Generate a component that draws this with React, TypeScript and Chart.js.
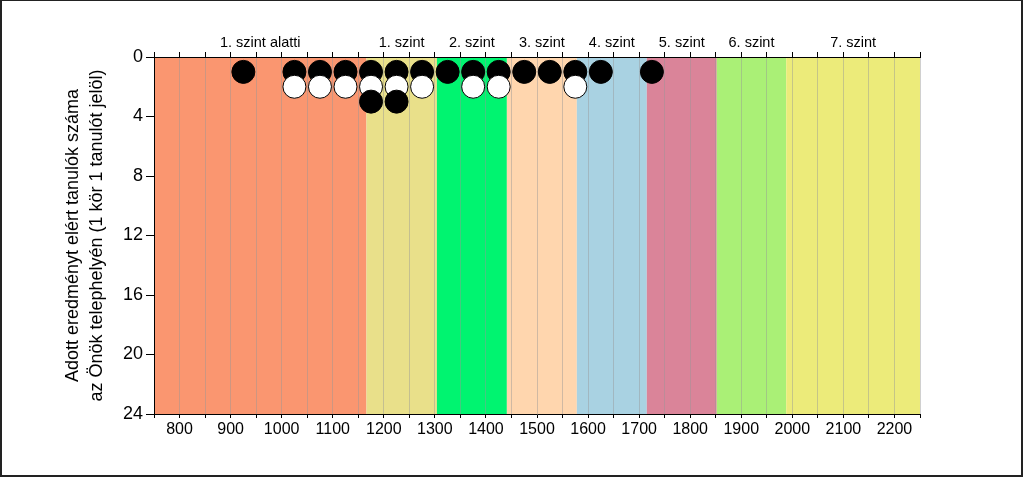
import React, { useEffect, useRef } from "react";
import { Chart, registerables } from "chart.js";

Chart.register(...registerables);

// ---- data ----
const levelNames = ["1. szint alatti", "1. szint", "2. szint", "3. szint", "4. szint", "5. szint", "6. szint", "7. szint"];
const levelStarts = [750, 1166, 1304, 1441, 1578, 1715, 1852, 1988];
const levelEnds = [1166, 1304, 1441, 1578, 1715, 1852, 1988, 2250];
const levelColors = ["#FA9670", "#E9E08A", "#00F470", "#FFD6AE", "#A9D2E2", "#DA8499", "#AAF076", "#ECEB7A"];

const scoreBins = [925, 1025, 1075, 1125, 1175, 1225, 1275, 1325, 1375, 1425, 1475, 1525, 1575, 1625, 1725];
const studentCounts = [1, 2, 2, 2, 3, 3, 2, 1, 2, 2, 1, 1, 2, 1, 1];

const xMin = 750;
const xMax = 2250;
const yMin = 0;
const yMax = 24;

const FONT = "'Liberation Sans', Arial, sans-serif";

function buildRows() {
  const maxCount = Math.max(...studentCounts);
  const rows: { x: number; y: number }[][] = [];
  for (let k = 1; k <= maxCount; k++) {
    const pts: { x: number; y: number }[] = [];
    scoreBins.forEach((b, i) => {
      if (studentCounts[i] >= k) pts.push({ x: b, y: k });
    });
    rows.push(pts);
  }
  return rows;
}

const bandsPlugin = {
  id: "bands",
  beforeDraw(chart: any) {
    const { ctx, chartArea, scales } = chart;
    const xs = scales.x;
    ctx.save();
    levelStarts.forEach((s, i) => {
      const x0 = xs.getPixelForValue(s);
      const x1 = xs.getPixelForValue(levelEnds[i]);
      ctx.fillStyle = levelColors[i];
      ctx.fillRect(x0, chartArea.top, x1 - x0, chartArea.bottom - chartArea.top);
    });
    ctx.restore();
  },
  afterDraw(chart: any) {
    const { ctx, chartArea, scales } = chart;
    const xs = scales.x;
    ctx.save();
    ctx.fillStyle = "#000";
    ctx.font = `14.5px ${FONT}`;
    ctx.textAlign = "center";
    ctx.textBaseline = "middle";
    levelNames.forEach((n, i) => {
      const c = (xs.getPixelForValue(levelStarts[i]) + xs.getPixelForValue(levelEnds[i])) / 2;
      ctx.fillText(n, c, chartArea.top - 14);
    });
    ctx.restore();
  },
};

export default function App() {
  const ref = useRef<HTMLCanvasElement | null>(null);
  useEffect(() => {
    if (!ref.current) return;
    const rows = buildRows();
    const datasets = rows.map((pts, i) => ({
      label: `row${i + 1}`,
      data: pts,
      order: rows.length - i,
      pointRadius: 11.5,
      pointHoverRadius: 11.5,
      pointBorderWidth: 1,
      pointBackgroundColor: i % 2 === 0 ? "#000000" : "#FFFFFF",
      pointBorderColor: "#000000",
      showLine: false,
    }));
    const chart = new Chart(ref.current, {
      type: "scatter",
      data: { datasets },
      plugins: [bandsPlugin],
      options: {
        animation: false,
        responsive: false,
        events: [],
        layout: { padding: { left: 0, top: 0, right: 104, bottom: 0 } },
        plugins: { legend: { display: false }, tooltip: { enabled: false } },
        scales: {
          x: {
            type: "linear",
            position: "bottom",
            min: xMin,
            max: xMax,
            afterFit(scale: any) {
              scale.height = 64;
            },
            border: { display: true, color: "#000", width: 1 },
            grid: {
              display: true,
              drawOnChartArea: true,
              drawTicks: true,
              tickLength: 4,
              color: "rgba(150,150,150,0.45)",
              tickColor: "#000",
            },
            ticks: {
              stepSize: 50,
              autoSkip: false,
              maxRotation: 0,
              padding: 2,
              color: "#000",
              font: { family: FONT, size: 16 },
              callback: (v: any) => (Number(v) % 100 === 0 ? String(v) : ""),
            },
          },
          x2: {
            type: "linear",
            position: "top",
            min: xMin,
            max: xMax,
            afterFit(scale: any) {
              scale.height = 57;
            },
            border: { display: true, color: "#000", width: 1 },
            grid: {
              display: true,
              drawOnChartArea: false,
              drawTicks: true,
              tickLength: 5,
              tickColor: "#000",
            },
            ticks: {
              stepSize: 50,
              autoSkip: false,
              maxRotation: 0,
              callback: () => "",
            },
          },
          y: {
            type: "linear",
            position: "left",
            min: yMin,
            max: yMax,
            reverse: true,
            afterFit(scale: any) {
              scale.width = 154;
            },
            border: { display: true, color: "#000", width: 1 },
            grid: {
              display: true,
              drawOnChartArea: false,
              drawTicks: true,
              tickLength: 8,
              tickColor: "#000",
            },
            ticks: {
              stepSize: 4,
              padding: 3,
              color: "#000",
              font: { family: FONT, size: 18 },
            },
            title: {
              display: true,
              text: ["Adott eredményt elért tanulók száma", "az Önök telephelyén (1 kör 1 tanulót jelöl)"],
              color: "#000",
              font: { family: FONT, size: 18, lineHeight: 1.28 },
              padding: { top: 62, bottom: 0 },
            },
          },
        },
      },
    });
    return () => chart.destroy();
  }, []);

  return (
    <div style={{ position: "fixed", left: 0, top: 0, width: 1024, height: 478, background: "#fff" }}>
      <canvas ref={ref} width={1024} height={478} style={{ display: "block", width: 1024, height: 478 }} />
      <div
        style={{
          position: "absolute",
          left: 0,
          top: 0,
          width: 1023,
          height: 477,
          boxSizing: "border-box",
          borderLeft: "2px solid #222",
          borderTop: "1px solid #222",
          borderRight: "2px solid #222",
          borderBottom: "2px solid #222",
          pointerEvents: "none",
        }}
      />
    </div>
  );
}
